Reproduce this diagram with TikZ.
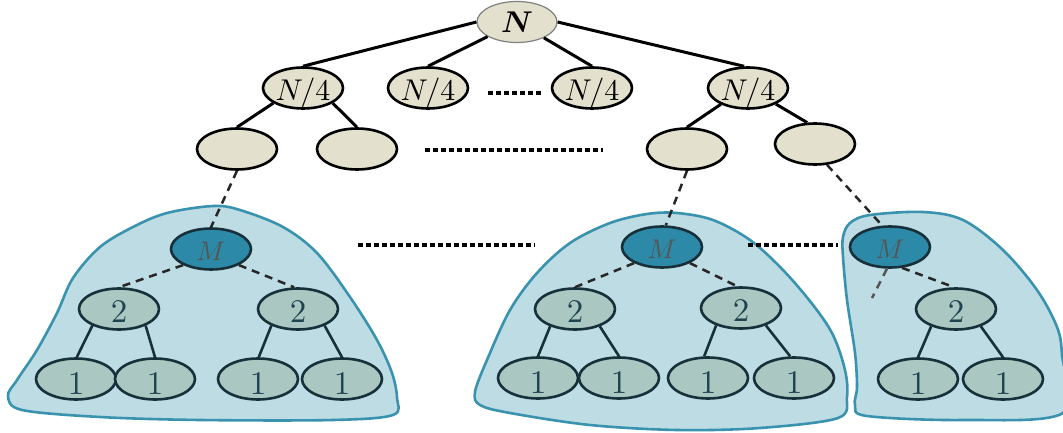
\documentclass[tikz,border=0pt]{standalone}
\usepackage{graphicx}
\usepackage{bm}
\usetikzlibrary{shapes.geometric}
\definecolor{beige}{HTML}{E3E0CD}
\definecolor{blobfill}{HTML}{BEDCE4}
\definecolor{blobline}{HTML}{3A93AE}
\definecolor{mfill}{HTML}{2C8AA8}
\definecolor{leaffill}{HTML}{ABC7C2}
\definecolor{nodeline}{HTML}{17303A}
\definecolor{numtext}{HTML}{1F4450}
\definecolor{mtext}{HTML}{555555}
\definecolor{edgegray}{HTML}{555555}

\tikzset{
  oval/.style={ellipse, minimum width=80pt, minimum height=41pt, inner sep=0pt, line width=2.6pt},
  rootnode/.style={oval, fill=beige, draw=gray, line width=1.2pt},
  upper/.style={oval, fill=beige, draw=black},
  mnode/.style={oval, fill=mfill, draw=nodeline},
  leaf/.style={oval, fill=leaffill, draw=nodeline},
  roottxt/.style={inner sep=0pt, text=black},
  qtxt/.style={inner sep=0pt, text=black, yshift=-5.5pt},
  mtxt/.style={inner sep=0pt, text=mtext, yshift=-2pt},
  twotxt/.style={inner sep=0pt, text=numtext, yshift=-3pt},
  onetxt/.style={inner sep=0pt, text=numtext, yshift=-5pt},
  treeedge/.style={line width=3pt, black},
  leafedge/.style={line width=2.6pt, nodeline},
  dashedge/.style={line width=2.5pt, black!85, dash pattern=on 8pt off 6pt},
  grayedge/.style={line width=2.5pt, edgegray, dash pattern=on 8pt off 6pt},
  ellipsis/.style={line width=4.5pt, black, dash pattern=on 4.5pt off 3.5pt},
  blob/.style={line width=2.6pt, draw=blobline, fill=blobfill},
}
\newcommand{\rootlbl}{\scalebox{3}{$\bm{N}$}}
\newcommand{\qlbl}{\scalebox{3}{$N/4$}}
\newcommand{\mlbl}{\scalebox{2.7}{$M$}}
\newcommand{\twolbl}{\scalebox{3.3}{2}}
\newcommand{\onelbl}{\scalebox{3.3}{1}}

\begin{document}
\begin{tikzpicture}[x=1pt,y=-1pt]
\useasboundingbox (0,0) rectangle (1063,433);

% subtree regions
\draw[blob] plot[smooth cycle, tension=0.55] coordinates {
  (8,396) (17,380) (37,350) (57,313) (73,278) (100,247) (133,227) (167,213)
  (213,206) (240,210) (283,227) (317,253) (350,297) (377,340) (392,373)
  (397,398) (393,415) (333,420) (200,420) (100,417) (22,410)};
\draw[blob] plot[smooth cycle, tension=0.55] coordinates {
  (475,392) (487,360) (510,310) (537,273) (570,243) (610,223) (647,214)
  (677,213) (713,220) (750,240) (783,270) (813,305) (833,335) (845,370)
  (847,397) (838,418) (760,428) (677,430) (590,425) (510,413) (480,405)};
\draw[blob] plot[smooth cycle, tension=0.55] coordinates {
  (843,257) (843,237) (850,223) (870,215) (923,212) (963,220) (1003,250)
  (1037,290) (1057,327) (1062,355) (1063,413) (963,420) (867,416) (855,405)
  (857,387) (855,353) (847,300)};

% upper tree
\node[rootnode, label={[roottxt]center:\rootlbl}] (root) at (517,22) {};
\node[upper, label={[qtxt]center:\qlbl}] (q1) at (303,88) {};
\node[upper, label={[qtxt]center:\qlbl}] (q2) at (428,88) {};
\node[upper, label={[qtxt]center:\qlbl}] (q3) at (592,88) {};
\node[upper, label={[qtxt]center:\qlbl}] (q4) at (748,88) {};
\node[upper] (l3a) at (237,149) {};
\node[upper] (l3b) at (357,149) {};
\node[upper] (l3c) at (687,149) {};
\node[upper] (l3d) at (815,144) {};

% first subtree
\node[mnode, label={[mtxt]center:\mlbl}] (m1) at (211,249) {};
\node[leaf, label={[twotxt]center:\twolbl}] (t1a) at (119,309) {};
\node[leaf, label={[twotxt]center:\twolbl}] (t1b) at (298,309) {};
\node[leaf, label={[onetxt]center:\onelbl}] (o1a) at (76,379) {};
\node[leaf, label={[onetxt]center:\onelbl}] (o1b) at (155,379) {};
\node[leaf, label={[onetxt]center:\onelbl}] (o1c) at (258,379) {};
\node[leaf, label={[onetxt]center:\onelbl}] (o1d) at (342,379) {};

% second subtree
\node[mnode, label={[mtxt]center:\mlbl}] (m2) at (662,247) {};
\node[leaf, label={[twotxt]center:\twolbl}] (t2a) at (575,309) {};
\node[leaf, label={[twotxt]center:\twolbl}] (t2b) at (741,308) {};
\node[leaf, label={[onetxt]center:\onelbl}] (o2a) at (538,378) {};
\node[leaf, label={[onetxt]center:\onelbl}] (o2b) at (619,378) {};
\node[leaf, label={[onetxt]center:\onelbl}] (o2c) at (708,378) {};
\node[leaf, label={[onetxt]center:\onelbl}] (o2d) at (794,378) {};

% third subtree
\node[mnode, label={[mtxt]center:\mlbl}] (m3) at (890,247) {};
\node[leaf, label={[twotxt]center:\twolbl}] (t3) at (956,309) {};
\node[leaf, label={[onetxt]center:\onelbl}] (o3a) at (918,379) {};
\node[leaf, label={[onetxt]center:\onelbl}] (o3b) at (1003,379) {};
\coordinate (m3free) at (872,298);

% edges of the upper tree
\draw[treeedge] (root.west) -- (q1.north);
\draw[treeedge] (root) -- (q2.north);
\draw[treeedge] (root) -- (q3.north);
\draw[treeedge] (root.east) -- (q4.100);
\draw[treeedge] (q1.207) -- (l3a.north);
\draw[treeedge] (q1.333) -- (l3b.north);
\draw[treeedge] (q4.211) -- (l3c.north);
\draw[treeedge] (q4.330) -- (l3d.110);

% links down into the subtrees
\draw[dashedge] (l3a.south) -- (m1.north);
\draw[dashedge] (l3c.south) -- (m2.80);
\draw[dashedge] (l3d.300) -- (m3.110);

% edges inside the subtrees
\draw[dashedge] (m1.210) -- (t1a.north);
\draw[dashedge] (m1.330) -- (t1b.100);
\draw[leafedge] (t1a.212) -- (o1a.88);
\draw[leafedge] (t1a.328) -- (o1b.90);
\draw[leafedge] (t1b.212) -- (o1c.88);
\draw[leafedge] (t1b.328) -- (o1d.90);

\draw[dashedge] (m2.210) -- (t2a.north);
\draw[dashedge] (m2.330) -- (t2b.100);
\draw[leafedge] (t2a.215) -- (o2a.90);
\draw[leafedge] (t2a.325) -- (o2b.90);
\draw[leafedge] (t2b.215) -- (o2c.100);
\draw[leafedge] (t2b.325) -- (o2d.100);

\draw[dashedge] (m3.300) -- (t3.95);
\draw[grayedge] (m3.262) -- (m3free);
\draw[leafedge] (t3.215) -- (o3a.90);
\draw[leafedge] (t3.325) -- (o3b.90);

% ellipsis marks for omitted siblings
\draw[ellipsis] (488,93) -- (543,93);
\draw[ellipsis] (425,150) -- (603,150);
\draw[ellipsis] (358,245) -- (535,245);
\draw[ellipsis] (748,245) -- (838,245);
\end{tikzpicture}
\end{document}
